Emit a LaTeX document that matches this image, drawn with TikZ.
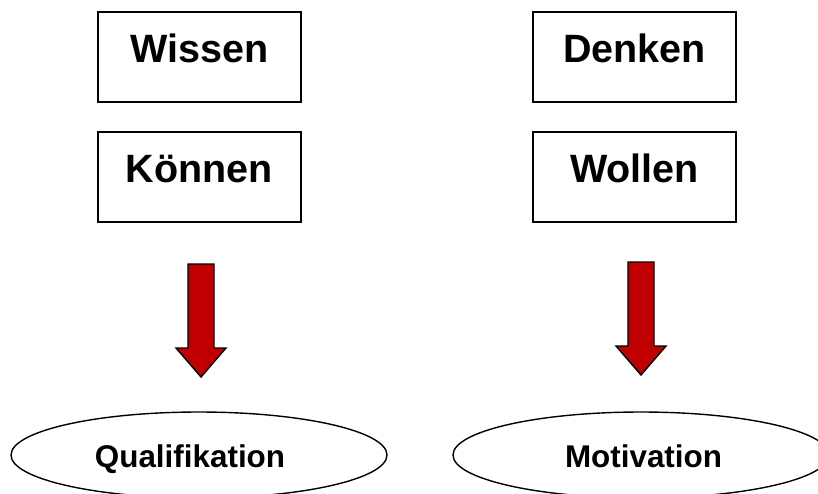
\documentclass[tikz,border=0pt]{standalone}
\usepackage{fontspec}
\setmainfont{Liberation Sans}
\usetikzlibrary{shapes.geometric}
\definecolor{arrowred}{RGB}{192,0,0}
\begin{document}
\begin{tikzpicture}[x=1pt,y=-1pt,
  box/.style={draw=black,line width=1.5pt,minimum width=203pt,minimum height=90pt,inner sep=0pt,
    text height=30pt,text depth=20pt,font=\fontsize{39.5}{45}\selectfont\bfseries},
  oval/.style={draw=black,line width=1.4pt,ellipse,minimum width=376pt,minimum height=86pt,inner sep=0pt},
  ovaltext/.style={anchor=base,inner sep=0pt,font=\fontsize{31.4}{36}\selectfont\bfseries},
  blockarrow/.style={fill=arrowred,draw=black,line width=1.4pt,line join=miter}]
\useasboundingbox (0,0) rectangle (818,493);
\fill[white] (0,0) rectangle (818,493);
\node[box] (wissen) at (199.5,57) {Wissen};
\node[box] (koennen) at (199.5,177) {Können};
\node[box] (denken) at (634.5,57) {Denken};
\node[box] (wollen) at (634.5,177) {Wollen};
\draw[blockarrow] (188,264) -- (214,264) -- (214,348) -- (226,348) -- (201,377) -- (176,348) -- (188,348) -- cycle;
\draw[blockarrow] (628,262) -- (654,262) -- (654,346) -- (666,346) -- (641,375) -- (616,346) -- (628,346) -- cycle;
\begin{scope}
\clip (0,0) rectangle (818,493);
\node[oval] (qual) at (199,455) {};
\node[oval] (motiv) at (641,455) {};
\end{scope}
\node[ovaltext] (qualt) at (190,467) {Qualifikation};
\node[ovaltext] (motivt) at (643.5,467) {Motivation};
\end{tikzpicture}
\end{document}
